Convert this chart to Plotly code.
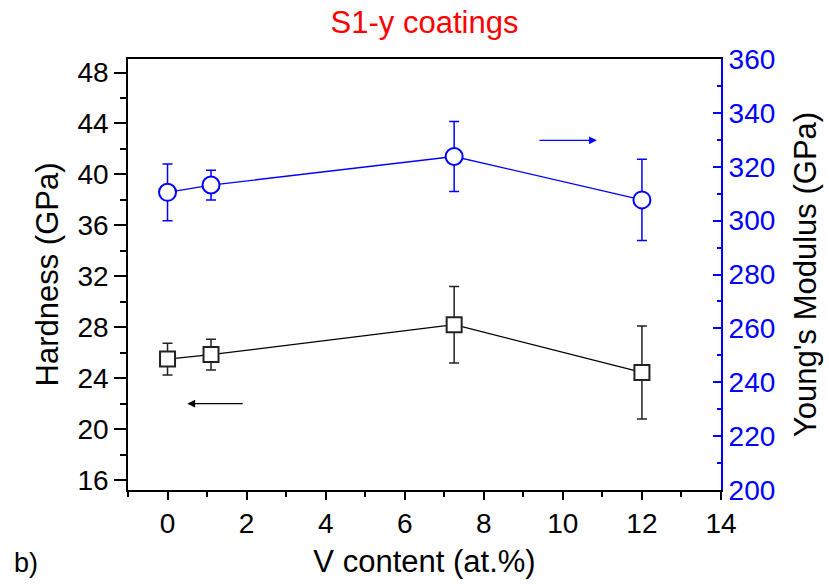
import plotly.graph_objects as go

v_content = [0, 1.1, 7.25, 12]
hardness = [25.5, 25.85, 28.2, 24.45]
hardness_err = [1.25, 1.2, 3.0, 3.65]
modulus = [310.5, 313.2, 323.8, 307.7]
modulus_err = [10.5, 5.5, 13.0, 15.1]

x_ticks = [0, 2, 4, 6, 8, 10, 12, 14]
h_ticks = [16, 20, 24, 28, 32, 36, 40, 44, 48]
m_ticks = [200, 220, 240, 260, 280, 300, 320, 340, 360]

FONT = "Liberation Sans, Arial, sans-serif"
BLUE = "#0000ff"

fig = go.Figure()
fig.add_trace(go.Scatter(
    x=v_content, y=hardness, mode="lines+markers",
    line=dict(color="black", width=1.3),
    marker=dict(symbol="square", size=15, color="white", line=dict(color="#222222", width=2)),
    error_y=dict(type="data", array=hardness_err, visible=True, color="#222222", thickness=1.5, width=5),
    yaxis="y", showlegend=False))
fig.add_trace(go.Scatter(
    x=v_content, y=modulus, mode="lines+markers",
    line=dict(color=BLUE, width=1.3),
    marker=dict(symbol="circle", size=17, color="white", line=dict(color=BLUE, width=2)),
    error_y=dict(type="data", array=modulus_err, visible=True, color=BLUE, thickness=1.5, width=5),
    yaxis="y2", showlegend=False))

fig.update_layout(
    width=829, height=585,
    margin=dict(l=128, r=108, t=59, b=93),
    paper_bgcolor="white", plot_bgcolor="white",
    font=dict(family=FONT, color="black"),
    title=dict(text="S1-y coatings", font=dict(family=FONT, size=31, color="red"),
               x=0.5, xref="paper", xanchor="center", y=0.962, yref="container", yanchor="middle"),
    xaxis=dict(range=[-1, 14], tickvals=x_ticks, showline=True, linecolor="black", linewidth=1.5,
               mirror=True, ticks="outside", ticklen=8, tickwidth=1.5, tickcolor="black",
               minor=dict(dtick=1, ticks="outside", ticklen=5, tickwidth=1.5, tickcolor="black"),
               showgrid=False, zeroline=False, tickfont=dict(size=28),
               title=dict(text="V content (at.%)", font=dict(size=31), standoff=12)),
    yaxis=dict(range=[15.22, 49.06], tickvals=h_ticks, showline=True, linecolor="black", linewidth=1.5,
               ticks="outside", ticklen=12, tickwidth=1.5, tickcolor="black",
               minor=dict(dtick=2, ticks="outside", ticklen=6, tickwidth=1.5, tickcolor="black"),
               showgrid=False, zeroline=False, tickfont=dict(size=28),
               title=dict(text="Hardness (GPa)", font=dict(size=31), standoff=10)),
    yaxis2=dict(range=[200, 360], tickvals=m_ticks, overlaying="y", side="right",
                showline=True, linecolor=BLUE, linewidth=2,
                ticks="inside", ticklen=8, tickwidth=1.5, tickcolor=BLUE,
                minor=dict(dtick=10, ticks="inside", ticklen=4, tickwidth=1.5, tickcolor=BLUE),
                showgrid=False, zeroline=False, tickfont=dict(size=28, color=BLUE),
                title=dict(text="Young's Modulus (GPa)", font=dict(size=31, color="black"), standoff=20)),
)

# direction arrows
fig.add_annotation(x=0.5, y=22.0, ax=1.94, ay=22.0, xref="x", yref="y", axref="x", ayref="y",
                   showarrow=True, arrowhead=2, arrowsize=1.2, arrowwidth=1.3, arrowcolor="black", text="")
fig.add_annotation(x=10.86, y=329.8, ax=9.37, ay=329.8, xref="x", yref="y2", axref="x", ayref="y2",
                   showarrow=True, arrowhead=2, arrowsize=1.2, arrowwidth=1.3, arrowcolor=BLUE, text="")
fig.add_annotation(text="b)", xref="paper", yref="paper", x=-0.196, y=-0.169,
                   xanchor="left", yanchor="middle", showarrow=False,
                   font=dict(size=27, color="black"))

fig.write_html("out.html")
